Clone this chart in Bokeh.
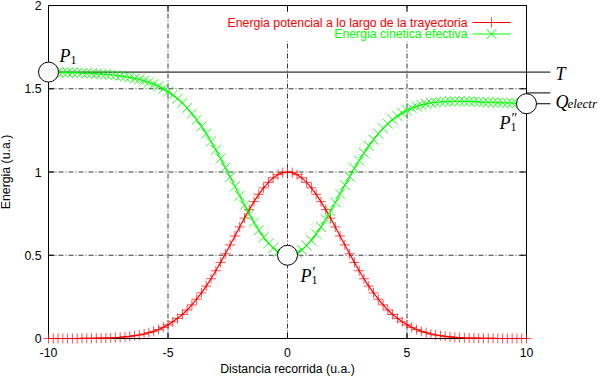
import math
from bokeh.plotting import figure
from bokeh.models import Range1d
from bokeh.core.properties import value
from bokeh.embed import file_html
from bokeh.resources import INLINE

# ---------------- data ----------------
x = [-10.0, -9.8, -9.6, -9.4, -9.2, -9.0, -8.8, -8.6, -8.4, -8.2,
     -8.0, -7.8, -7.6, -7.4, -7.2, -7.0, -6.8, -6.6, -6.4, -6.2,
     -6.0, -5.8, -5.6, -5.4, -5.2, -5.0, -4.8, -4.6, -4.4, -4.2,
     -4.0, -3.8, -3.6, -3.4, -3.2, -3.0, -2.8, -2.6, -2.4, -2.2,
     -2.0, -1.8, -1.6, -1.4, -1.2, -1.0, -0.8, -0.6, -0.4, -0.2,
     0.0, 0.2, 0.4, 0.6, 0.8, 1.0, 1.2, 1.4, 1.6, 1.8,
     2.0, 2.2, 2.4, 2.6, 2.8, 3.0, 3.2, 3.4, 3.6, 3.8,
     4.0, 4.2, 4.4, 4.6, 4.8, 5.0, 5.2, 5.4, 5.6, 5.8,
     6.0, 6.2, 6.4, 6.6, 6.8, 7.0, 7.2, 7.4, 7.6, 7.8,
     8.0, 8.2, 8.4, 8.6, 8.8, 9.0, 9.2, 9.4, 9.6, 9.8, 10.0]

potencial = [0.000, 0.000, 0.000, 0.000, 0.000, 0.000, 0.000, 0.001, 0.001, 0.001,
             0.002, 0.002, 0.003, 0.004, 0.006, 0.007, 0.010, 0.013, 0.017, 0.021,
             0.027, 0.035, 0.043, 0.054, 0.067, 0.082, 0.100, 0.121, 0.144, 0.171,
             0.202, 0.236, 0.274, 0.315, 0.359, 0.407, 0.457, 0.509, 0.562, 0.616,
             0.670, 0.723, 0.774, 0.822, 0.866, 0.905, 0.938, 0.965, 0.984, 0.996,
             1.000, 0.996, 0.984, 0.965, 0.938, 0.905, 0.866, 0.822, 0.774, 0.723,
             0.670, 0.616, 0.562, 0.509, 0.457, 0.407, 0.359, 0.315, 0.274, 0.236,
             0.202, 0.171, 0.144, 0.121, 0.100, 0.082, 0.067, 0.054, 0.043, 0.035,
             0.027, 0.021, 0.017, 0.013, 0.010, 0.007, 0.006, 0.004, 0.003, 0.002,
             0.002, 0.001, 0.001, 0.001, 0.000, 0.000, 0.000, 0.000, 0.000, 0.000, 0.000]

cinetica = [1.600, 1.599, 1.599, 1.598, 1.597, 1.597, 1.596, 1.594, 1.593, 1.592,
            1.590, 1.588, 1.586, 1.584, 1.581, 1.578, 1.573, 1.568, 1.562, 1.556,
            1.548, 1.538, 1.528, 1.515, 1.500, 1.483, 1.463, 1.440, 1.414, 1.384,
            1.351, 1.314, 1.274, 1.231, 1.183, 1.133, 1.081, 1.026, 0.970, 0.913,
            0.857, 0.801, 0.747, 0.697, 0.650, 0.608, 0.572, 0.543, 0.521, 0.507,
            0.500, 0.503, 0.514, 0.532, 0.558, 0.590, 0.628, 0.670, 0.716, 0.765,
            0.817, 0.869, 0.921, 0.972, 1.022, 1.069, 1.114, 1.157, 1.195, 1.230,
            1.262, 1.290, 1.315, 1.336, 1.355, 1.370, 1.383, 1.394, 1.403, 1.409,
            1.415, 1.419, 1.421, 1.423, 1.424, 1.425, 1.425, 1.424, 1.424, 1.423,
            1.421, 1.420, 1.419, 1.418, 1.417, 1.416, 1.415, 1.413, 1.412, 1.411, 1.410]

x_ticks = [-10, -5, 0, 5, 10]
x_tick_labels = ["-10", "-5", "0", "5", "10"]
y_ticks = [0, 0.5, 1, 1.5, 2]
y_tick_labels = ["0", "0.5", "1", "1.5", "2"]

point_x = [-10, 0, 10]
point_y = [1.6, 0.5, 1.41]
point_primes = ["", "\u2032", "\u2033"]

T_level = 1.6
Q_level = 1.475
line_end_x = 11.0

legend_labels = ["Energia potencial a lo largo de la trayectoria",
                 "Energia cinetica efectiva"]
x_label = "Distancia recorrida (u.a.)"
y_label = "Energia (u.a.)"

# ---------------- layout ----------------
W, H = 604, 376
FX0, FX1 = 48.0, 526.0      # frame left/right in canvas px
FY0, FY1 = 5.0, 338.0       # frame top/bottom in canvas px
xmin, xmax = x_ticks[0], x_ticks[-1]
ymin, ymax = y_ticks[0], y_ticks[-1]
sx = (FX1 - FX0) / (xmax - xmin)
sy = (FY1 - FY0) / (ymax - ymin)
x_range = Range1d(xmin - FX0 / sx, xmax + (W - FX1) / sx)
y_range = Range1d(ymin - (H - FY1) / sy, ymax + FY0 / sy)


def cx(px):  # canvas px -> data x
    return xmin + (px - FX0) / sx


def cy(py):  # canvas px (from top) -> data y
    return ymax - (py - FY0) / sy


p = figure(width=W, height=H, x_range=x_range, y_range=y_range,
           toolbar_location=None, output_backend="svg", title=None,
           min_border=0)
p.axis.visible = False
p.grid.visible = False
p.outline_line_color = None
p.background_fill_color = "white"
p.border_fill_color = "white"

SANS = value("Liberation Sans")
SERIF = value("Liberation Serif")
FS = value("12.3px")
GRID = "#3a3a3a"

# grid (dash-dot)
gx = x_ticks[1:-1]
gy = y_ticks[1:-1]
p.segment(x0=gx, y0=[ymin] * len(gx), x1=gx, y1=[ymax] * len(gx),
          line_color=GRID, line_width=1, line_dash="5 2 1 2")
p.segment(x0=[xmin] * len(gy), y0=gy, x1=[xmax] * len(gy), y1=gy,
          line_color=GRID, line_width=1, line_dash="5 2 1 2")

# opaque key box
row1, row2 = 22.0, 33.5
p.quad(left=cx(222), right=cx(516), top=cy(FY0 + 7), bottom=cy(row2 + 7),
       fill_color="white", line_color=None)

# inward ticks on all four sides
tl_x = 6 / sx
tl_y = 6 / sy
p.segment(x0=x_ticks, y0=[ymin] * 5, x1=x_ticks, y1=[ymin + tl_y] * 5, line_color="black")
p.segment(x0=x_ticks, y0=[ymax] * 5, x1=x_ticks, y1=[ymax - tl_y] * 5, line_color="black")
p.segment(x0=[xmin] * 5, y0=y_ticks, x1=[xmin + tl_x] * 5, y1=y_ticks, line_color="black")
p.segment(x0=[xmax] * 5, y0=y_ticks, x1=[xmax - tl_x] * 5, y1=y_ticks, line_color="black")

# frame
p.quad(left=xmin, right=xmax, bottom=ymin, top=ymax, fill_color=None,
       line_color="black", line_width=1)

# tick labels
p.text(x=x_ticks, y=[ymin] * 5, text=x_tick_labels, text_font=SANS,
       text_font_size=FS, text_align="center", text_baseline="middle",
       y_offset=13.5, text_color="black")
p.text(x=[xmin] * 5, y=y_ticks, text=y_tick_labels, text_font=SANS,
       text_font_size=FS, text_align="right", text_baseline="middle",
       x_offset=-7, text_color="black")

# axis titles
p.text(x=[(xmin + xmax) / 2], y=[ymin], text=[x_label], text_font=SANS,
       text_font_size=FS, text_align="center", text_baseline="middle",
       y_offset=30.5, text_color="black")
p.text(x=[cx(5.5)], y=[(ymin + ymax) / 2], text=[y_label], text_font=SANS,
       text_font_size=FS, text_align="center", text_baseline="middle",
       angle=math.pi / 2, text_color="black")

# energy level lines
p.segment(x0=[point_x[0], xmax, xmax], y0=[T_level, Q_level, point_y[2]],
          x1=[line_end_x] * 3, y1=[T_level, Q_level, point_y[2]],
          line_color="black", line_width=1)

# curves
p.line(x, potencial, line_color="#ff0000", line_width=1.2)
p.scatter(x, potencial, marker="cross", size=10, line_color="#ff0000",
          line_alpha=0.7, line_width=1)
p.line(x, cinetica, line_color="#00ff00", line_width=1.2)
p.scatter(x, cinetica, marker="x", size=14, line_color="#00ff00",
          line_alpha=0.85, line_width=1)

# legend
p.text(x=[cx(467)] * 2, y=[cy(row1), cy(row2)], text=legend_labels,
       text_color=["#ff0000", "#00ff00"], text_font=SANS,
       text_font_size=FS, text_align="right", text_baseline="middle")
p.segment(x0=[cx(472)] * 2, y0=[cy(row1), cy(row2)], x1=[cx(510)] * 2,
          y1=[cy(row1), cy(row2)], line_color=["#ff0000", "#00ff00"], line_width=1.2)
p.scatter(x=[cx(491)], y=[cy(row1)], marker="cross", size=10, line_color="#ff0000", line_alpha=0.7)
p.scatter(x=[cx(491)], y=[cy(row2)], marker="x", size=14, line_color="#00ff00")

# points
p.scatter(point_x, point_y, marker="circle", size=20, fill_color="white",
          line_color="black", line_width=1)

# point labels
lab_dx = [11, 13, -27]
lab_dy = [-16, 21, 19]
for i in range(3):
    p.text(x=[point_x[i]], y=[point_y[i]], text=["P"], text_font=SERIF,
           text_font_style="italic", text_font_size=value("18px"),
           text_align="left", text_baseline="alphabetic",
           x_offset=lab_dx[i], y_offset=lab_dy[i], text_color="black")
    p.text(x=[point_x[i]], y=[point_y[i]], text=["1"], text_font=SERIF,
           text_font_size=value("12px"), text_align="left", text_baseline="alphabetic",
           x_offset=lab_dx[i] + 11, y_offset=lab_dy[i] + 4, text_color="black")
    if point_primes[i]:
        p.text(x=[point_x[i]], y=[point_y[i]], text=[point_primes[i]], text_font=SERIF,
               text_font_size=value("14px"), text_align="left", text_baseline="alphabetic",
               x_offset=lab_dx[i] + 12, y_offset=lab_dy[i] - 4, text_color="black")

# T and Q labels
p.text(x=[line_end_x], y=[T_level], text=["T"], text_font=SERIF,
       text_font_style="italic", text_font_size=value("18px"), text_align="left",
       text_baseline="middle", x_offset=5, y_offset=2, text_color="black")
p.text(x=[line_end_x], y=[Q_level], text=["Q"], text_font=SERIF,
       text_font_style="italic", text_font_size=value("18px"), text_align="left",
       text_baseline="alphabetic", x_offset=5, y_offset=9, text_color="black")
p.text(x=[line_end_x], y=[Q_level], text=["electr"], text_font=SERIF,
       text_font_style="italic", text_font_size=value("13px"), text_align="left",
       text_baseline="alphabetic", x_offset=17, y_offset=11, text_color="black")

open("out.html", "w").write(file_html(p, INLINE))
